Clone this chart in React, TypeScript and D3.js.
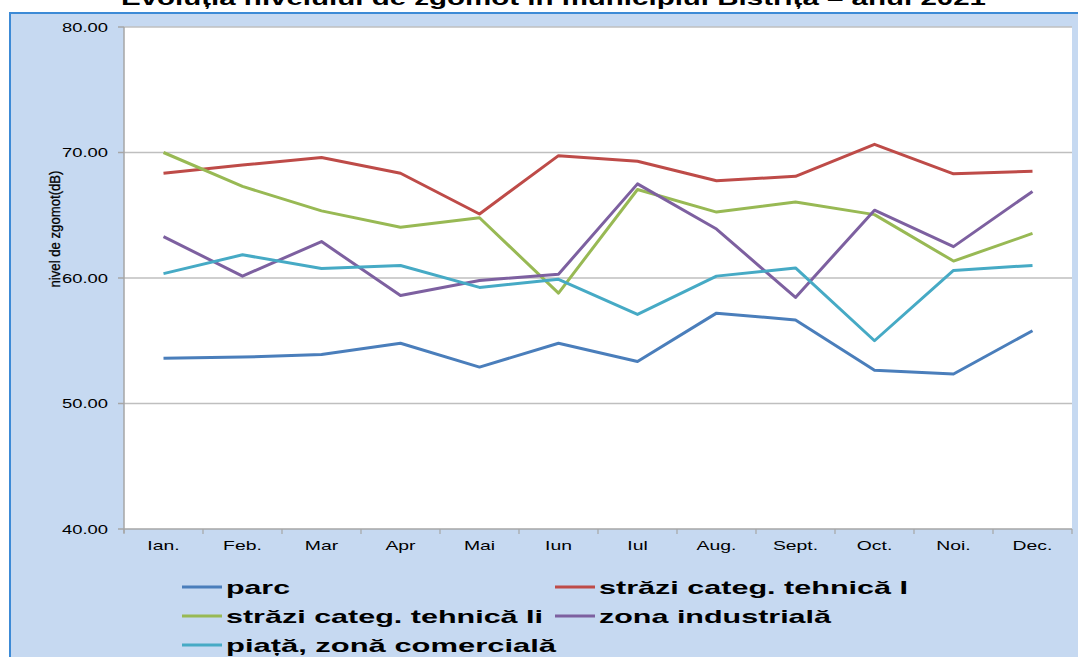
import React from "react";
import * as d3 from "d3";

const months = ["Ian.", "Feb.", "Mar", "Apr", "Mai", "Iun", "Iul", "Aug.", "Sept.", "Oct.", "Noi.", "Dec."];
const parc = [53.6, 53.7, 53.9, 54.8, 52.9, 54.8, 53.35, 57.2, 56.65, 52.65, 52.35, 55.8];
const strazi1 = [68.35, 69.0, 69.6, 68.35, 65.1, 69.75, 69.3, 67.75, 68.1, 70.65, 68.3, 68.5];
const strazi2 = [70.0, 67.3, 65.35, 64.05, 64.8, 58.8, 67.05, 65.25, 66.05, 65.05, 61.35, 63.55];
const industriala = [63.3, 60.15, 62.9, 58.6, 59.8, 60.3, 67.5, 63.9, 58.45, 65.4, 62.5, 66.9];
const piata = [60.35, 61.85, 60.75, 61.0, 59.25, 59.9, 57.1, 60.15, 60.8, 55.0, 60.6, 61.0];
const yTicks = [40, 50, 60, 70, 80];
const seriesNames = ["parc", "străzi categ. tehnică I", "străzi categ. tehnică Ii", "zona industrială", "piață, zonă comercială"];
const seriesColors = ["#4A7EBB", "#BE4B48", "#98B954", "#7D60A0", "#46AAC5"];
const title = "Evoluția nivelului de zgomot în municipiul Bistrița – anul 2021";

export default function App() {
  const W = 1078, H = 657;
  const left = 124, right = 1072, top = 27, bottom = 529;
  const x = d3.scaleBand<string>().domain(months).range([left, right]);
  const y = d3.scaleLinear().domain([40, 80]).range([bottom, top]);
  const allSeries = [parc, strazi1, strazi2, industriala, piata];
  const line = d3.line<number>().x((_, i) => (x(months[i]) as number) + x.bandwidth() / 2).y((d) => y(d));
  const legendPos = [
    [182, 587], [555, 587], [182, 616], [555, 616], [182, 645],
  ];
  const legendLen = [64, 309, 317, 232, 330];
  const boundaries = d3.range(months.length + 1).map((i) => left + i * x.bandwidth());
  return (
    <svg width={W} height={H} style={{ position: "absolute", left: 0, top: 0, fontFamily: "Liberation Sans, Arial, sans-serif" }}>
      <rect x={0} y={0} width={W} height={H} fill="#ffffff" />
      <rect x={10} y={13} width={W} height={H} fill="#C6D9F1" stroke="#3C8AD6" strokeWidth={2} />
      <text x={121} y={5} fontSize={21} fontWeight="bold" fill="#000" textLength={865} lengthAdjust="spacingAndGlyphs">{title}</text>
      <rect x={left} y={top} width={right - left} height={bottom - top} fill="#ffffff" />
      {yTicks.map((t) => (
        <g key={t}>
          <line x1={left} x2={right} y1={y(t)} y2={y(t)} stroke={t === 40 ? "#A6A6A6" : "#BFBFBF"} strokeWidth={1.5} />
          <line x1={left - 6} x2={left} y1={y(t)} y2={y(t)} stroke="#A6A6A6" strokeWidth={1.5} />
          <text x={62} y={y(t) + 4.5} fontSize={12.5} fill="#000" textLength={46} lengthAdjust="spacingAndGlyphs">{t.toFixed(2)}</text>
        </g>
      ))}
      <line x1={left} x2={left} y1={top} y2={bottom + 4} stroke="#A6A6A6" strokeWidth={1.5} />
      {boundaries.map((bx, i) => (
        <line key={i} x1={bx} x2={bx} y1={bottom} y2={bottom + 5} stroke="#A6A6A6" strokeWidth={1.2} />
      ))}
      {months.map((m) => (
        <text key={m} transform={`translate(${(x(m) as number) + x.bandwidth() / 2},550) scale(1.55,1)`} textAnchor="middle" fontSize={12.5} fill="#000">{m}</text>
      ))}
      <text transform={`translate(60,229) rotate(-90)`} textAnchor="middle" fontSize={15.5} fill="#000" stroke="#000" strokeWidth={0.3} textLength={117} lengthAdjust="spacingAndGlyphs">nivel de zgomot(dB)</text>
      {allSeries.map((s, i) => (
        <path key={i} d={line(s) as string} fill="none" stroke={seriesColors[i]} strokeWidth={3} strokeLinejoin="round" />
      ))}
      {seriesNames.map((n, i) => (
        <g key={n}>
          <line x1={legendPos[i][0]} x2={legendPos[i][0] + 40} y1={legendPos[i][1]} y2={legendPos[i][1]} stroke={seriesColors[i]} strokeWidth={3} />
          <text x={legendPos[i][0] + 44} y={legendPos[i][1] + 7} fontSize={19} fontWeight="bold" fill="#000" textLength={legendLen[i]} lengthAdjust="spacingAndGlyphs">{n}</text>
        </g>
      ))}
    </svg>
  );
}
